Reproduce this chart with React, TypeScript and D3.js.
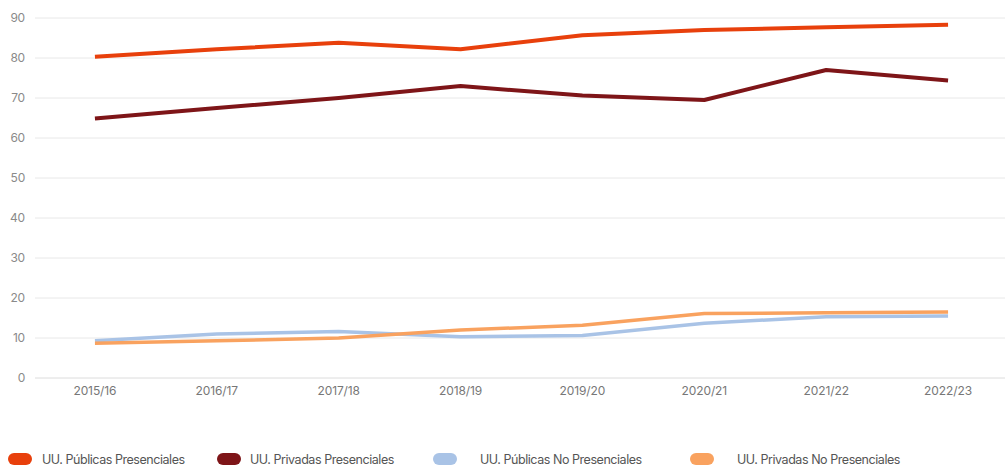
import React from "react";
import * as d3 from "d3";

const categories = ["2015/16", "2016/17", "2017/18", "2018/19", "2019/20", "2020/21", "2021/22", "2022/23"];
const publicasPresenciales = [80.3, 82.2, 83.8, 82.2, 85.7, 87.0, 87.7, 88.3];
const privadasPresenciales = [64.9, 67.5, 70.0, 73.0, 70.6, 69.5, 77.0, 74.4];
const publicasNoPresenciales = [9.3, 11.0, 11.6, 10.3, 10.6, 13.7, 15.3, 15.5];
const privadasNoPresenciales = [8.7, 9.3, 10.0, 12.0, 13.2, 16.1, 16.3, 16.5];
const yTicks = [0, 10, 20, 30, 40, 50, 60, 70, 80, 90];

const seriesNames = [
  "UU. Públicas Presenciales",
  "UU. Privadas Presenciales",
  "UU. Públicas No Presenciales",
  "UU. Privadas No Presenciales",
];
const seriesValues = [publicasPresenciales, privadasPresenciales, publicasNoPresenciales, privadasNoPresenciales];
const colors = ["#e8400c", "#7e1518", "#a9c3e6", "#f9a25f"];
const legendX = [8, 217, 433, 690];
const legendTextOffset = [34, 33, 47, 47];

export default function App() {
  const W = 1005, H = 467;
  const x = d3.scalePoint<string>().domain(categories).range([34, 1009]).padding(0.5);
  const y = d3.scaleLinear().domain([0, 90]).range([378, 18]);
  const line = d3
    .line<number>()
    .x((_, i) => x(categories[i]) as number)
    .y((d) => y(d));
  const font = "Inter, 'Noto Sans', sans-serif";
  return (
    <svg width={W} height={H} style={{ position: "absolute", left: 0, top: 0, background: "#fff" }}>
      {yTicks.map((t) => (
        <g key={t}>
          <line x1={35} x2={1005} y1={y(t)} y2={y(t)} stroke={t === 0 ? "#dcdcdc" : "#e8e8e8"} strokeWidth={1} />
          <text x={25} y={y(t)} dy="0.35em" textAnchor="end" fontSize={12} fill="#8a8a8a" fontFamily={font} letterSpacing={-0.2}>
            {t}
          </text>
        </g>
      ))}
      {categories.map((c) => (
        <text key={c} x={x(c)} y={391} dy="0.35em" textAnchor="middle" fontSize={12} fill="#777" fontFamily={font} letterSpacing={-0.1}>
          {c}
        </text>
      ))}
      {seriesValues.map((vals, i) => (
        <path
          key={i}
          d={line(vals) || ""}
          fill="none"
          stroke={colors[i]}
          strokeWidth={i < 2 ? 4 : 3.5}
          strokeLinejoin="round"
        />
      ))}
      {seriesNames.map((n, i) => (
        <g key={n}>
          <rect x={legendX[i]} y={453} width={24} height={12} rx={6} ry={6} fill={colors[i]} />
          <text
            x={legendX[i] + legendTextOffset[i]}
            y={459.5}
            dy="0.35em"
            fontSize={12.5}
            fill="#555"
            fontFamily={font}
            letterSpacing={-0.45}
          >
            {n}
          </text>
        </g>
      ))}
    </svg>
  );
}
